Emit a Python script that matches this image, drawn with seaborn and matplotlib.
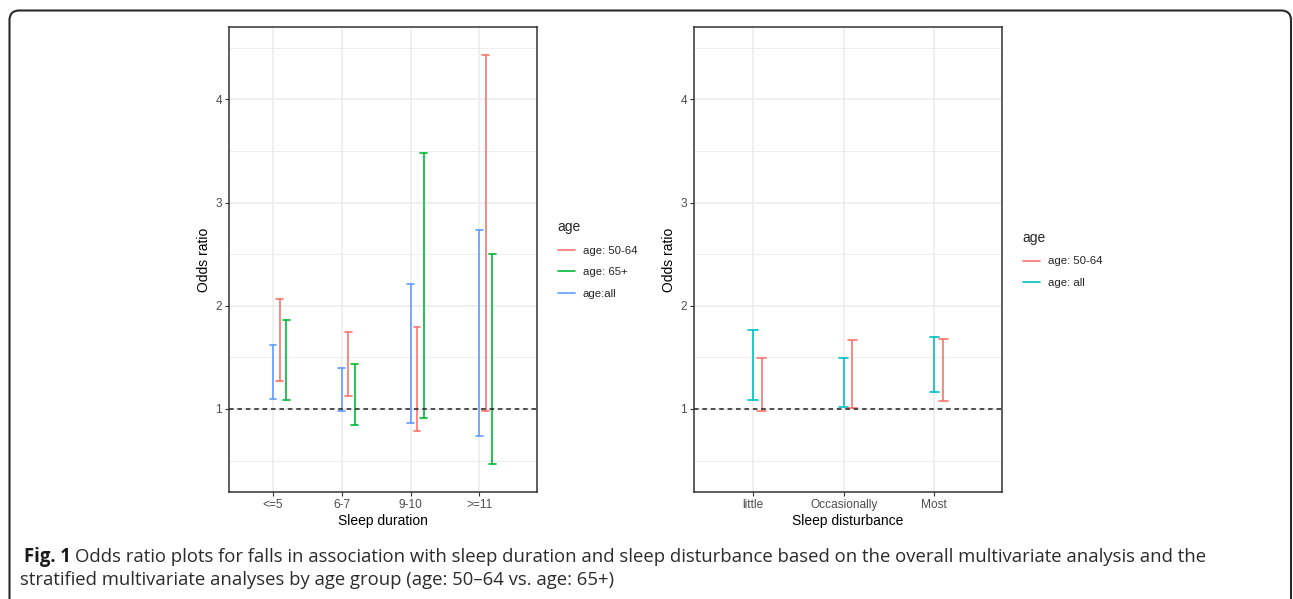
import numpy as np
import pandas as pd
import matplotlib
matplotlib.use("Agg")
import matplotlib.pyplot as plt
import seaborn as sns
from matplotlib.lines import Line2D
from matplotlib.patches import FancyBboxPatch

# ---------------- data ----------------
dur_categories = ["<=5", "6-7", "9-10", ">=11"]
dur_all_lo = [1.10, 0.98, 0.865, 0.74]
dur_all_hi = [1.617, 1.40, 2.21, 2.736]
dur_5064_lo = [1.27, 1.126, 0.787, 0.98]
dur_5064_hi = [2.065, 1.75, 1.79, 4.427]
dur_65_lo = [1.087, 0.845, 0.916, 0.47]
dur_65_hi = [1.86, 1.44, 3.48, 2.50]

dist_categories = ["little", "Occasionally", "Most"]
dist_all_lo = [1.084, 1.02, 1.16]
dist_all_hi = [1.765, 1.494, 1.70]
dist_5064_lo = [0.984, 1.01, 1.075]
dist_5064_hi = [1.494, 1.665, 1.68]

label_all_left = "age:all"
label_all_right = "age: all"
label_5064 = "age: 50-64"
label_65 = "age: 65+"

RED = "#F8766D"
GREEN = "#00BA38"
BLUE = "#619CFF"
TEAL = "#00BFC4"

sns.set_style("white")
plt.rcParams["font.family"] = ["Liberation Sans", "DejaVu Sans"]

W, H = 1293, 599
fig = plt.figure(figsize=(W / 100, H / 100), dpi=100)


def frames(categories, series, cap=0.05):
    """series: list of (label, offset, lo, hi)"""
    vert, caps = [], []
    uid = 0
    for label, off, lo, hi in series:
        for i, _ in enumerate(categories):
            x = i + off
            vert.append((x, lo[i], uid, label))
            vert.append((x, hi[i], uid, label))
            for yv in (lo[i], hi[i]):
                caps.append((x - cap, yv, uid, label))
                caps.append((x + cap, yv, uid, label))
                uid += 1
            uid += 1
    cols = ["x", "y", "unit", "age"]
    return pd.DataFrame(vert, columns=cols), pd.DataFrame(caps, columns=cols)


def style_axes(ax, categories, xlim, xlabel):
    ax.set_xlim(*xlim)
    ax.set_ylim(0.196, 4.70)
    ax.set_xticks(range(len(categories)))
    ax.set_xticklabels(categories)
    ax.set_yticks([1, 2, 3, 4])
    ax.set_yticks([0.5, 1.5, 2.5, 3.5, 4.5], minor=True)
    ax.grid(True, which="major", color="#EBEBEB", lw=1.1)
    ax.grid(True, which="minor", axis="y", color="#EBEBEB", lw=0.6)
    ax.set_axisbelow(True)
    for s in ax.spines.values():
        s.set_color("#333333")
        s.set_linewidth(1.1)
    ax.tick_params(axis="both", which="major", length=3, width=0.8, color="#333333",
                   labelcolor="#4D4D4D", labelsize=8.6, pad=2, direction="out")
    ax.tick_params(axis="both", which="minor", length=0)
    ax.tick_params(left=True, bottom=True)
    ax.axhline(1, color="#222222", lw=1.1, ls=(0, (3, 2.5)), zorder=5)
    ax.set_xlabel(xlabel, fontsize=10, color="black", labelpad=2)
    ax.set_ylabel("Odds ratio", fontsize=10, color="black", labelpad=3)


def add_legend(ax, handles, labels):
    ax.legend(handles, labels, title="age", frameon=False,
              loc="center left", bbox_to_anchor=(1.045, 0.5), fontsize=8.2,
              title_fontsize=10, handlelength=1.5, handletextpad=0.7,
              labelspacing=1.0, alignment="left", borderaxespad=0.2)


# ---------------- left panel ----------------
ax1 = fig.add_axes([229 / W, 1 - 492 / H, 308 / W, 465 / H])
v1, c1 = frames(dur_categories, [
    (label_all_left, 0.0, dur_all_lo, dur_all_hi),
    (label_5064, 0.095, dur_5064_lo, dur_5064_hi),
    (label_65, 0.19, dur_65_lo, dur_65_hi),
])
pal1 = {label_5064: RED, label_65: GREEN, label_all_left: BLUE}
for d in (v1, c1):
    sns.lineplot(data=d, x="x", y="y", hue="age", units="unit", estimator=None,
                 sort=False, palette=pal1, lw=1.2, legend=False, ax=ax1)
style_axes(ax1, dur_categories, (-0.64, 3.84), "Sleep duration")
h1 = [Line2D([], [], color=pal1[k], lw=1.2) for k in (label_5064, label_65, label_all_left)]
add_legend(ax1, h1, [label_5064, label_65, label_all_left])

# ---------------- right panel ----------------
ax2 = fig.add_axes([694 / W, 1 - 492 / H, 308 / W, 465 / H])
v2, c2 = frames(dist_categories, [
    (label_all_right, 0.0, dist_all_lo, dist_all_hi),
    (label_5064, 0.096, dist_5064_lo, dist_5064_hi),
])
pal2 = {label_5064: RED, label_all_right: TEAL}
for d in (v2, c2):
    sns.lineplot(data=d, x="x", y="y", hue="age", units="unit", estimator=None,
                 sort=False, palette=pal2, lw=1.2, legend=False, ax=ax2)
style_axes(ax2, dist_categories, (-0.65, 2.745), "Sleep disturbance")
h2 = [Line2D([], [], color=pal2[k], lw=1.2) for k in (label_5064, label_all_right)]
add_legend(ax2, h2, [label_5064, label_all_right])

# ---------------- frame & caption ----------------
box = FancyBboxPatch((9.5 / W, -0.2), (1291 - 9.5) / W, (1 - 10.5 / H) + 0.2,
                     boxstyle="round,pad=0,rounding_size=0.0075",
                     transform=fig.transFigure, fill=False, ec="#2a2a2a", lw=1.5,
                     mutation_aspect=W / H)
fig.patches.append(box)

cap_font = ["Open Sans", "Liberation Sans", "DejaVu Sans"]
line1 = ("Odds ratio plots for falls in association with sleep duration and sleep disturbance "
         "based on the overall multivariate analysis and the")
line2 = "stratified multivariate analyses by age group (age: 50\u201364 vs. age: 65+)"

renderer = fig.canvas.get_renderer()
size = 12.0
y1, y2 = 1 - 557 / H, 1 - 580 / H
t_bold = fig.text(24 / W, y1, "Fig. 1", fontsize=size, fontweight="bold",
                  family=cap_font, va="center", ha="left", color="#1a1a1a")
t1 = fig.text(0, y1, line1, fontsize=size, family=cap_font, va="center", ha="left",
              color="#2b2b2b")
t2 = fig.text(20 / W, y2, line2, fontsize=size, family=cap_font, va="center", ha="left",
              color="#2b2b2b")
gap = 4
target_right = 1209
for _ in range(3):
    bb = t_bold.get_window_extent(renderer)
    t1.set_x((bb.x1 + gap) / W)
    b1 = t1.get_window_extent(renderer)
    total = b1.x1 - bb.x0
    size = size * (target_right - bb.x0) / total
    for t in (t_bold, t1, t2):
        t.set_fontsize(size)
bb = t_bold.get_window_extent(renderer)
t1.set_x((bb.x1 + gap) / W)

fig.savefig("out.png", dpi=100)
